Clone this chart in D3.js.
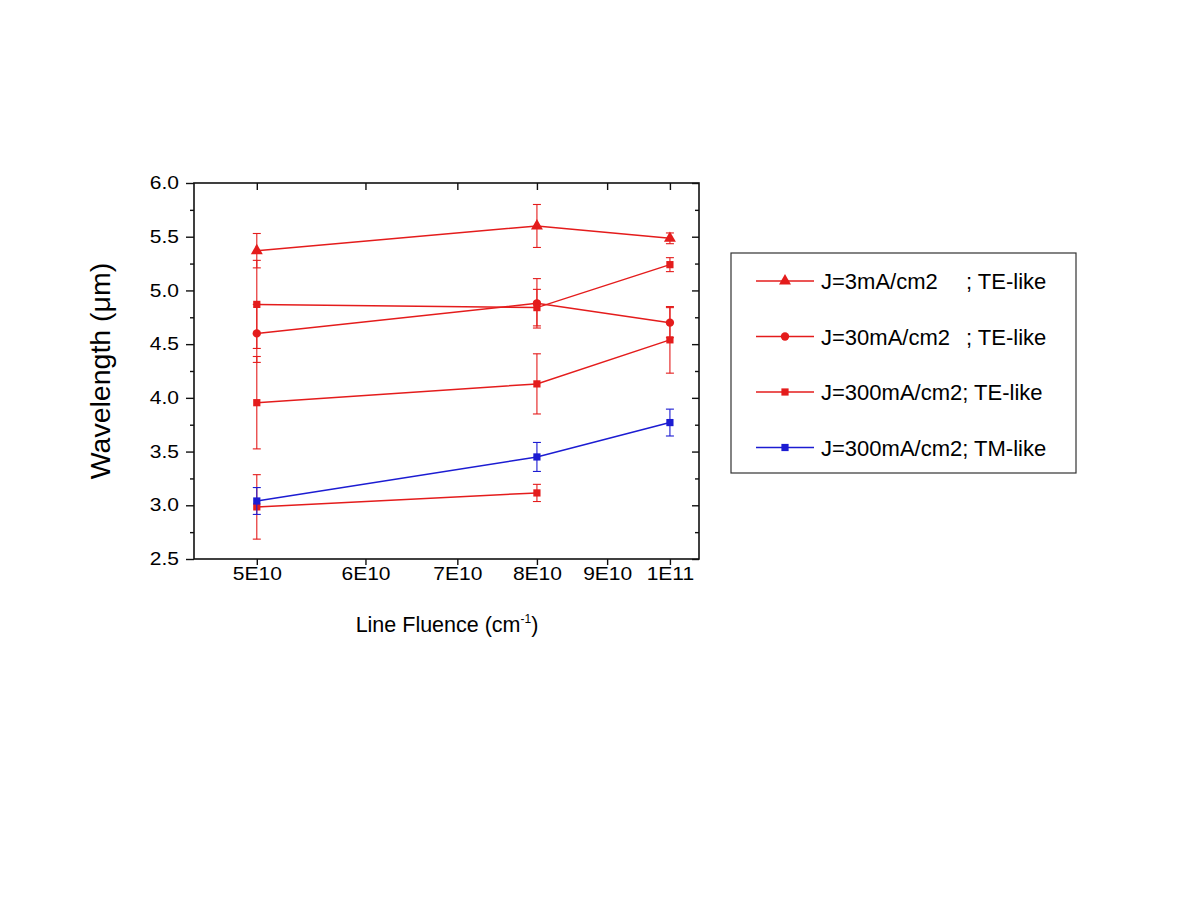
<!DOCTYPE html>
<html>
<head>
<meta charset="utf-8">
<script src="https://cdn.jsdelivr.net/npm/d3@7"></script>
<style>
  html, body { margin: 0; padding: 0; background: #fff; }
  svg { display: block; }
  text { font-family: Arial, "Liberation Sans", sans-serif; fill: #000; }
</style>
</head>
<body>
<svg id="chart" width="1200" height="900"></svg>
<script>
// ---------- data ----------
const xFluence = [5e10, 8e10, 1e11];
const xTickValues = [5e10, 6e10, 7e10, 8e10, 9e10, 1e11];
const xTickLabels = ["5E10", "6E10", "7E10", "8E10", "9E10", "1E11"];
const yMajorTicks = [2.5, 3.0, 3.5, 4.0, 4.5, 5.0, 5.5, 6.0];
const yMinorTicks = [2.75, 3.25, 3.75, 4.25, 4.75, 5.25, 5.75];

// J=3mA/cm2 ; TE-like (triangles)
const j3TE = [5.37, 5.60, 5.485];
const j3TEerr = [0.16, 0.20, 0.05];
// J=30mA/cm2 ; TE-like (circles)
const j30TE = [4.60, 4.88, 4.70];
const j30TEerr = [0.27, 0.23, 0.14];
// J=300mA/cm2; TE-like (squares) - three branches
const j300TE_a = [4.87, 4.84, 5.24];
const j300TE_aErr = [0.41, 0.17, 0.065];
const j300TE_b = [3.955, 4.13, 4.54];
const j300TE_bErr = [0.43, 0.28, 0.31];
const j300TE_c = [2.985, 3.115];
const j300TE_cErr = [0.30, 0.08];
// J=300mA/cm2; TM-like (blue squares)
const j300TM = [3.04, 3.45, 3.77];
const j300TMerr = [0.125, 0.135, 0.125];

const legendLabels = [
  ["J=3mA/cm2", "; TE-like"],
  ["J=30mA/cm2", "; TE-like"],
  ["J=300mA/cm2; TE-like", ""],
  ["J=300mA/cm2; TM-like", ""]
];

// ---------- layout ----------
const RED = "#e41c1c";
const BLUE = "#1c1cd2";
const plot = { left: 194, right: 699, top: 183, bottom: 559 };

const svg = d3.select("#chart");
const x = d3.scaleLog().domain([4.5e10, 1.05e11]).range([plot.left, plot.right]);
const y = d3.scaleLinear().domain([2.5, 6.0]).range([plot.bottom, plot.top]);

const STRETCH = 1.2;
const TICK_FONT = 17.5;

// bottom axis (outward ticks + labels)
const gBottom = svg.append("g").attr("transform", `translate(0,${plot.bottom})`)
  .call(d3.axisBottom(x).tickValues(xTickValues).tickSize(6).tickPadding(3)
    .tickFormat((d, i) => xTickLabels[i]));
gBottom.selectAll("text").attr("font-size", TICK_FONT).attr("transform", `scale(${STRETCH},1)`)
  .attr("font-family", "Arial, 'Liberation Sans', sans-serif");

// top axis (inward ticks)
svg.append("g").attr("transform", `translate(0,${plot.top})`)
  .call(d3.axisBottom(x).tickValues(xTickValues).tickSize(7).tickFormat(""));

// left axis major (outward) with labels
const gLeft = svg.append("g").attr("transform", `translate(${plot.left},0)`)
  .call(d3.axisLeft(y).tickValues(yMajorTicks).tickSize(8).tickPadding(8)
    .tickFormat(d3.format(".1f")));
gLeft.selectAll("text").attr("font-size", TICK_FONT)
  .attr("x", -15 / STRETCH).attr("transform", `scale(${STRETCH},1)`)
  .attr("font-family", "Arial, 'Liberation Sans', sans-serif");
// left axis minor
svg.append("g").attr("transform", `translate(${plot.left},0)`)
  .call(d3.axisLeft(y).tickValues(yMinorTicks).tickSize(4).tickFormat(""));

// right axis (inward ticks)
svg.append("g").attr("transform", `translate(${plot.right},0)`)
  .call(d3.axisLeft(y).tickValues(yMajorTicks).tickSize(7).tickFormat(""));
svg.append("g").attr("transform", `translate(${plot.right},0)`)
  .call(d3.axisLeft(y).tickValues(yMinorTicks).tickSize(4).tickFormat(""));

svg.selectAll(".domain").remove();
svg.selectAll(".tick line").attr("stroke", "#111").attr("stroke-width", 1.4);

// frame
svg.append("rect")
  .attr("x", plot.left).attr("y", plot.top)
  .attr("width", plot.right - plot.left).attr("height", plot.bottom - plot.top)
  .attr("fill", "none").attr("stroke", "#111").attr("stroke-width", 1.6);

// axis titles
svg.append("text")
  .attr("x", 447).attr("y", 632).attr("text-anchor", "middle").attr("font-size", 21.5)
  .text("Line Fluence (cm")
  .append("tspan").attr("font-size", 12).attr("dy", -9).text("-1")
  .select(function () { return this.parentNode; })
  .append("tspan").attr("dy", 9).attr("font-size", 21.5).text(")");

svg.append("text")
  .attr("transform", `translate(110,${(plot.top + plot.bottom) / 2}) rotate(-90)`)
  .attr("text-anchor", "middle").attr("font-size", 28.5)
  .text("Wavelength (μm)");

// ---------- series ----------
const series = [
  { vals: j3TE, err: j3TEerr, color: RED, sym: d3.symbolTriangle, size: 62 },
  { vals: j30TE, err: j30TEerr, color: RED, sym: d3.symbolCircle, size: 55 },
  { vals: j300TE_a, err: j300TE_aErr, color: RED, sym: d3.symbolSquare, size: 52 },
  { vals: j300TE_b, err: j300TE_bErr, color: RED, sym: d3.symbolSquare, size: 52 },
  { vals: j300TE_c, err: j300TE_cErr, color: RED, sym: d3.symbolSquare, size: 52 },
  { vals: j300TM, err: j300TMerr, color: BLUE, sym: d3.symbolSquare, size: 52 }
];

const line = d3.line().x(d => x(d.x)).y(d => y(d.y));
const CAP = 4;

series.forEach(s => {
  const pts = s.vals.map((v, i) => ({ x: xFluence[i], y: v, e: s.err[i] }));
  const g = svg.append("g");
  // error bars
  const eb = g.selectAll(".eb").data(pts).enter().append("g")
    .attr("stroke", s.color).attr("stroke-width", 1.1);
  eb.append("line").attr("x1", d => x(d.x)).attr("x2", d => x(d.x))
    .attr("y1", d => y(d.y - d.e)).attr("y2", d => y(d.y + d.e));
  eb.append("line").attr("x1", d => x(d.x) - CAP).attr("x2", d => x(d.x) + CAP)
    .attr("y1", d => y(d.y + d.e)).attr("y2", d => y(d.y + d.e));
  eb.append("line").attr("x1", d => x(d.x) - CAP).attr("x2", d => x(d.x) + CAP)
    .attr("y1", d => y(d.y - d.e)).attr("y2", d => y(d.y - d.e));
  // line
  g.append("path").datum(pts).attr("d", line)
    .attr("fill", "none").attr("stroke", s.color).attr("stroke-width", 1.5);
  // markers
  g.selectAll(".m").data(pts).enter().append("path")
    .attr("transform", d => `translate(${x(d.x)},${y(d.y)})`)
    .attr("d", d3.symbol().type(s.sym).size(s.size))
    .attr("fill", s.color);
});

// ---------- legend ----------
const legend = { x: 731, y: 253, w: 345, h: 220 };
svg.append("rect").attr("x", legend.x).attr("y", legend.y)
  .attr("width", legend.w).attr("height", legend.h)
  .attr("fill", "#fff").attr("stroke", "#333").attr("stroke-width", 1.2);

const legendItems = [
  { color: RED, sym: d3.symbolTriangle, size: 62 },
  { color: RED, sym: d3.symbolCircle, size: 55 },
  { color: RED, sym: d3.symbolSquare, size: 52 },
  { color: BLUE, sym: d3.symbolSquare, size: 52 }
];
const rowY = [281, 336.5, 392, 447.5];
legendItems.forEach((it, i) => {
  const cy = rowY[i];
  svg.append("line").attr("x1", 756).attr("x2", 814).attr("y1", cy).attr("y2", cy)
    .attr("stroke", it.color).attr("stroke-width", 1.5);
  svg.append("path").attr("transform", `translate(785,${cy})`)
    .attr("d", d3.symbol().type(it.sym).size(it.size)).attr("fill", it.color);
  const t = svg.append("text").attr("x", 821).attr("y", cy + 8).attr("font-size", 22)
    .text(legendLabels[i][0]);
  if (legendLabels[i][1]) {
    t.append("tspan").attr("x", 966).text(legendLabels[i][1]);
  }
});
</script>
</body>
</html>
